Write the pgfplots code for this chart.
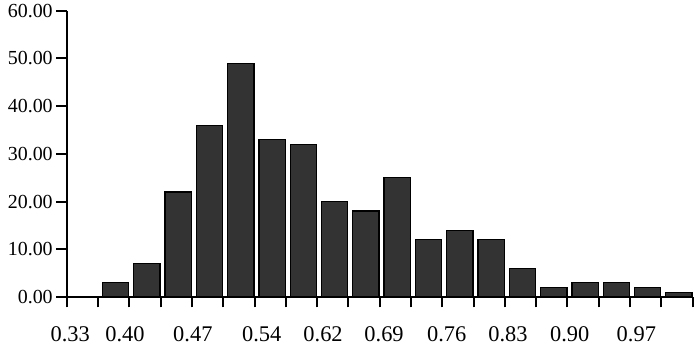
\documentclass[border=0pt]{standalone}
\usepackage{fontspec}
\setmainfont{Liberation Serif}
\usepackage{pgfplots}
\pgfplotsset{compat=1.18}
\definecolor{barfill}{HTML}{333333}
\begin{document}
\begin{tikzpicture}
\begin{axis}[
  scale only axis,
  width=626bp, height=286.3bp,
  xmin=0, xmax=20, ymin=0, ymax=60,
  axis lines=left,
  axis line style={line width=2bp, -},
  clip=false,
  tick align=outside,
  major tick length=10.5bp,
  tick style={line width=2bp, black},
  xtick={0,...,20},
  xticklabels={,,,,,,,,,,,,,,,,,,,,},
  extra x ticks={0.11,1.86,4.03,6.23,8.19,10.14,12.14,14.1,16.07,18.2},
  extra x tick labels={0.33,0.40,0.47,0.54,0.62,0.69,0.76,0.83,0.90,0.97},
  extra x tick style={major tick length=0pt, xticklabel style={yshift=-26bp}},
  xticklabel style={font=\fontsize{22.5}{22.5}\selectfont, text=black},
  ytick={0,10,...,60},
  yticklabel style={font=\fontsize{20}{20}\selectfont, text=black, /pgf/number format/.cd, fixed, fixed zerofill, precision=2, assume math mode=true},
]
\addplot[ybar, bar shift=0pt, bar width=0.84, fill=barfill, draw=black, line width=1.3bp]
coordinates {
(1.56,3) (2.56,7) (3.56,22) (4.56,36) (5.56,49) (6.56,33) (7.56,32) (8.56,20)
(9.56,18) (10.56,25) (11.56,12) (12.56,14) (13.56,12) (14.56,6) (15.56,2)
(16.56,3) (17.56,3) (18.56,2) (19.56,1)
};
\path (rel axis cs:-0.1066,-0.1711) rectangle (rel axis cs:1.0117,1.0374);
\end{axis}
\end{tikzpicture}
\end{document}
